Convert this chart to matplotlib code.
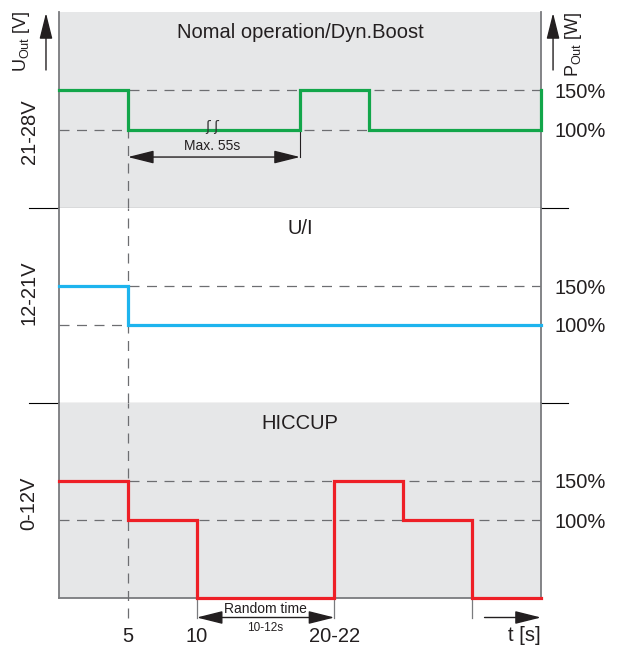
import matplotlib
matplotlib.use("Agg")
import matplotlib.pyplot as plt

plt.rcParams['font.family'] = ['Liberation Sans', 'DejaVu Sans']
plt.rcParams['mathtext.fontset'] = 'custom'
plt.rcParams['mathtext.rm'] = 'Liberation Sans'
plt.rcParams['mathtext.it'] = 'Liberation Sans'

# ---- data ----
panel_titles = ["Nomal operation/Dyn.Boost", "U/I", "HICCUP"]
voltage_ranges = ["21-28V", "12-21V", "0-12V"]
level_ticks = [100, 150]
level_labels = ["100%", "150%"]

green_t = [0, 5, 17.5, 22.5, 35, 35]
green_p = [150, 100, 150, 100, 100, 150]

blue_t = [0, 5, 35]
blue_p = [150, 100, 100]

red_t = [0, 5, 10, 20, 25, 30, 35]
red_p = [150, 100, 0, 150, 100, 0, 0]

x_ticks = [5, 10, 20]
x_labels = ["5", "10", "20-22"]
marker_times = [10, 20, 30]

t_max = 35
p_max = 250

# ---- style ----
GREEN = '#12a64a'
BLUE = '#1db4ee'
RED = '#ee1f26'
BG = '#e6e7e8'
GRAY = '#6d6e71'
DASH = (0, (8, 6))
TXT = '#231f20'

W, H = 618, 647
fig = plt.figure(figsize=(W / 100, H / 100), dpi=100)

def rect(top, bot):
    return [59 / W, 1 - bot / H, 482 / W, (bot - top) / H]

ax1 = fig.add_axes(rect(12, 208))
ax2 = fig.add_axes(rect(208, 403))
ax3 = fig.add_axes(rect(403, 598))
axes = [ax1, ax2, ax3]
series = [(green_t, green_p, GREEN), (blue_t, blue_p, BLUE), (red_t, red_p, RED)]
label_y = [0.388, 0.564, 0.487]
bgs = [BG, 'white', BG]

for i, ax in enumerate(axes):
    ax.set_xlim(0, t_max)
    ax.set_ylim(0, p_max)
    ax.set_facecolor(bgs[i])
    for s in ['top', 'bottom']:
        ax.spines[s].set_visible(False)
    for s in ['left', 'right']:
        ax.spines[s].set_color('#7a7b7e')
        ax.spines[s].set_linewidth(1.3)
    for lv in level_ticks:
        ax.axhline(lv, ls=DASH, color=GRAY, lw=0.9, zorder=2)
    t, p, c = series[i]
    ax.plot(t, p, drawstyle='steps-post', color=c, lw=2.3, zorder=5,
            clip_on=False, solid_joinstyle='miter')
    ax.yaxis.tick_right()
    ax.set_yticks(level_ticks, level_labels)
    ax.tick_params(axis='y', length=0, pad=10, labelsize=14.5, labelcolor=TXT)
    ax.set_xticks([])
    ax.text(0.5, 0.895, panel_titles[i], transform=ax.transAxes, ha='center',
            va='center', fontsize=14.5, color=TXT)
    ax.text(-0.062, label_y[i], voltage_ranges[i], transform=ax.transAxes,
            rotation=90, ha='center', va='center', fontsize=14.5, color=TXT)

# separators between panels
for ax in [ax1, ax2]:
    ax.axhline(0, xmin=-0.062, xmax=1.056, color='k', lw=0.8, clip_on=False, zorder=6)
ax3.spines['bottom'].set_visible(True)
ax3.spines['bottom'].set_color('#7a7b7e')
ax3.spines['bottom'].set_linewidth(1.3)

# vertical dashed line at t=5
ax1.plot([5, 5], [0, 100], ls=DASH, color=GRAY, lw=0.9, zorder=3)
ax2.axvline(5, ls=DASH, color=GRAY, lw=0.9, zorder=3)
ax3.plot([5, 5], [-0.1, 1], ls=DASH, color=GRAY, lw=0.9, zorder=3,
         transform=ax3.get_xaxis_transform(), clip_on=False)

# x ticks of panel 3
ax3.set_xticks(x_ticks, x_labels)
ax3.tick_params(axis='x', length=0, pad=21, labelsize=14.5, labelcolor=TXT)
for mt in marker_times:
    ax3.plot([mt, mt], [-0.1, 0], color='#7a7b7e', lw=0.9,
             transform=ax3.get_xaxis_transform(), clip_on=False)

arrow = dict(arrowstyle='-|>,head_length=0.8,head_width=0.2', mutation_scale=20,
             color=TXT, lw=1.0, shrinkA=0, shrinkB=0)
darrow = dict(arrowstyle='<|-|>,head_length=0.8,head_width=0.2', mutation_scale=20,
              color=TXT, lw=1.0, shrinkA=0, shrinkB=0)

# Random time arrow
ax3.annotate('', xy=(20, -0.1), xytext=(10, -0.1), xycoords=('data', 'axes fraction'),
             arrowprops=darrow, annotation_clip=False)
ax3.text(15, -0.056, 'Random time', transform=ax3.get_xaxis_transform(),
         ha='center', va='center', fontsize=10, color=TXT)
ax3.text(15, -0.154, '10-12s', transform=ax3.get_xaxis_transform(),
         ha='center', va='center', fontsize=8.5, color=TXT)

# t [s] arrow
ax3.annotate('', xy=(35, -0.1), xytext=(30.9, -0.1), xycoords=('data', 'axes fraction'),
             arrowprops=arrow, annotation_clip=False)
ax3.text(35, -0.19, 't [s]', transform=ax3.get_xaxis_transform(),
         ha='right', va='center', fontsize=14.5, color=TXT)

# Max. 55s arrow
ax1.plot([17.5, 17.5], [65, 100], color=TXT, lw=0.8, zorder=4)
ax1.annotate('', xy=(17.5, 65), xytext=(5, 65), arrowprops=darrow)
ax1.text(11.15, 79, 'Max. 55s', ha='center', va='center', fontsize=10, color=TXT)
ax1.text(11.1, 103, 'ʃ ʃ', ha='center', va='center', fontsize=10, color='#333333',
         zorder=7, family=['DejaVu Sans'])

# axis arrows / labels
ax1.annotate('', xy=(-0.027, 0.995), xytext=(-0.027, 0.704), xycoords='axes fraction',
             arrowprops=arrow, annotation_clip=False)
ax1.text(-0.077, 0.852, r'U$_{\mathrm{Out}}$ [V]', transform=ax1.transAxes,
         rotation=90, ha='center', va='center', fontsize=13, color=TXT)
ax1.annotate('', xy=(1.025, 0.995), xytext=(1.025, 0.704), xycoords='axes fraction',
             arrowprops=arrow, annotation_clip=False)
ax1.text(1.068, 0.837, r'P$_{\mathrm{Out}}$ [W]', transform=ax1.transAxes,
         rotation=90, ha='center', va='center', fontsize=13, color=TXT)

fig.savefig('out.png', dpi=100)
